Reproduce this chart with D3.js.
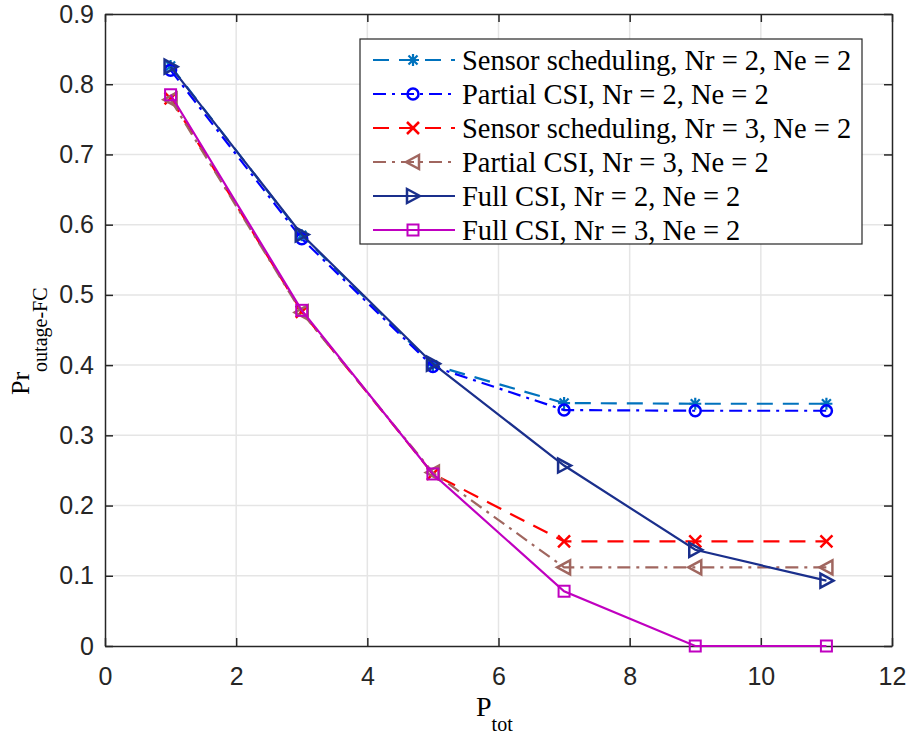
<!DOCTYPE html>
<html>
<head>
<meta charset="utf-8">
<script src="https://d3js.org/d3.v7.min.js"></script>
<style>
  body { margin: 0; background: #fff; }
  .tick text { font-family: "Liberation Sans", Arial, sans-serif; font-size: 25px; fill: #262626; }
  .lbl { font-family: "Liberation Serif", "Times New Roman", serif; fill: #000; }
</style>
</head>
<body>
<svg id="chart" width="908" height="738"></svg>
<script>
// Data

const xValues = [1, 3, 5, 7, 9, 11];

const sensorNr2 = [0.826, 0.585, 0.400, 0.346, 0.345, 0.345];
const partialNr2 = [0.820, 0.580, 0.398, 0.336, 0.335, 0.335];
const sensorNr3 = [0.780, 0.476, 0.245, 0.149, 0.149, 0.149];
const partialNr3 = [0.778, 0.475, 0.247, 0.112, 0.112, 0.112];
const fullNr2 = [0.825, 0.586, 0.402, 0.257, 0.137, 0.093];
const fullNr3 = [0.785, 0.478, 0.245, 0.078, 0.000, 0.000];

const xTicks = [0, 2, 4, 6, 8, 10, 12];
const yTicks = [0, 0.1, 0.2, 0.3, 0.4, 0.5, 0.6, 0.7, 0.8, 0.9];

const dashed = "16,10";
const dashDot = "13,6,3,6";

const series = [
  { name: "Sensor scheduling, Nr = 2, Ne = 2", values: sensorNr2, color: "#0072BD", dash: dashed, marker: "star" },
  { name: "Partial CSI, Nr = 2, Ne = 2", values: partialNr2, color: "#0000FF", dash: dashDot, marker: "circle" },
  { name: "Sensor scheduling, Nr = 3, Ne = 2", values: sensorNr3, color: "#FF0000", dash: dashed, marker: "x" },
  { name: "Partial CSI, Nr = 3, Ne = 2", values: partialNr3, color: "#A0665F", dash: dashDot, marker: "triLeft" },
  { name: "Full CSI, Nr = 2, Ne = 2", values: fullNr2, color: "#1A2F8C", dash: null, marker: "triRight" },
  { name: "Full CSI, Nr = 3, Ne = 2", values: fullNr3, color: "#C000C0", dash: null, marker: "square" }
];

// Frame

const margin = { top: 14, right: 16, bottom: 92, left: 105 };
const width = 908;
const height = 738;

const svg = d3.select("#chart");

const x = d3.scaleLinear().domain([0, 12]).range([margin.left, width - margin.right]);
const y = d3.scaleLinear().domain([0, 0.9]).range([height - margin.bottom, margin.top]);

// Grid

svg.append("g").selectAll("line.gx")
  .data(xTicks.slice(1, -1))
  .enter().append("line")
  .attr("x1", d => x(d)).attr("x2", d => x(d))
  .attr("y1", y(0)).attr("y2", y(0.9))
  .attr("stroke", "#e5e5e5").attr("stroke-width", 1.5);

svg.append("g").selectAll("line.gy")
  .data(yTicks.slice(1, -1))
  .enter().append("line")
  .attr("x1", x(0)).attr("x2", x(12))
  .attr("y1", d => y(d)).attr("y2", d => y(d))
  .attr("stroke", "#e5e5e5").attr("stroke-width", 1.5);

// Axes

const xAxis = svg.append("g")
  .attr("transform", "translate(0," + y(0) + ")")
  .call(d3.axisBottom(x).tickValues(xTicks).tickSizeInner(-8).tickSizeOuter(0).tickPadding(21));

const xAxisTop = svg.append("g")
  .attr("transform", "translate(0," + y(0.9) + ")")
  .call(d3.axisTop(x).tickValues(xTicks).tickSizeInner(-8).tickSizeOuter(0).tickFormat(""));

const yAxis = svg.append("g")
  .attr("transform", "translate(" + x(0) + ",0)")
  .call(d3.axisLeft(y).tickValues(yTicks).tickSizeInner(-8).tickSizeOuter(0).tickPadding(11)
    .tickFormat(d => d === 0 ? "0" : d3.format(".1f")(d)));

const yAxisRight = svg.append("g")
  .attr("transform", "translate(" + x(12) + ",0)")
  .call(d3.axisRight(y).tickValues(yTicks).tickSizeInner(-8).tickSizeOuter(0).tickFormat(""));

[xAxis, xAxisTop, yAxis, yAxisRight].forEach(g => {
  g.select(".domain").attr("stroke", "#262626").attr("stroke-width", 1.5);
  g.selectAll(".tick line").attr("stroke", "#262626").attr("stroke-width", 1.5);
});

// Marker drawing

function drawMarker(g, type, cx, cy, color) {
  const s = 6;
  if (type === "circle") {
    g.append("circle").attr("cx", cx).attr("cy", cy).attr("r", 5.5)
      .attr("fill", "none").attr("stroke", color).attr("stroke-width", 2.5);
  } else if (type === "square") {
    g.append("rect").attr("x", cx - 5.5).attr("y", cy - 5.5).attr("width", 11).attr("height", 11)
      .attr("fill", "none").attr("stroke", color).attr("stroke-width", 2);
  } else if (type === "x") {
    g.append("path")
      .attr("d", `M${cx - s},${cy - s}L${cx + s},${cy + s}M${cx - s},${cy + s}L${cx + s},${cy - s}`)
      .attr("stroke", color).attr("stroke-width", 2.5);
  } else if (type === "star") {
    g.append("path")
      .attr("d", `M${cx - s},${cy}L${cx + s},${cy}M${cx},${cy - s}L${cx},${cy + s}` +
        `M${cx - 4.5},${cy - 4.5}L${cx + 4.5},${cy + 4.5}M${cx - 4.5},${cy + 4.5}L${cx + 4.5},${cy - 4.5}`)
      .attr("stroke", color).attr("stroke-width", 2.2);
  } else if (type === "triLeft") {
    g.append("path")
      .attr("d", `M${cx - 7},${cy}L${cx + 6},${cy - 7}L${cx + 6},${cy + 7}Z`)
      .attr("fill", "none").attr("stroke", color).attr("stroke-width", 2.5);
  } else if (type === "triRight") {
    g.append("path")
      .attr("d", `M${cx + 7},${cy}L${cx - 6},${cy - 7}L${cx - 6},${cy + 7}Z`)
      .attr("fill", "none").attr("stroke", color).attr("stroke-width", 2.5);
  }
}

// Lines

const line = d3.line()
  .x((d, i) => x(xValues[i]))
  .y(d => y(d));

series.forEach(s => {
  const g = svg.append("g");
  g.append("path")
    .datum(s.values)
    .attr("d", line)
    .attr("fill", "none")
    .attr("stroke", s.color)
    .attr("stroke-width", 2.2)
    .attr("stroke-dasharray", s.dash);
  s.values.forEach((v, i) => drawMarker(g, s.marker, x(xValues[i]), y(v), s.color));
});

// Legend

const legend = svg.append("g").attr("transform", "translate(360,39)");

legend.append("rect")
  .attr("width", 502).attr("height", 205)
  .attr("fill", "#fff").attr("stroke", "#262626").attr("stroke-width", 1.2);

series.forEach((s, i) => {
  const ly = 21 + i * 34;
  const row = legend.append("g");
  row.append("line")
    .attr("x1", 13).attr("x2", 95).attr("y1", ly).attr("y2", ly)
    .attr("stroke", s.color).attr("stroke-width", 2.2)
    .attr("stroke-dasharray", s.dash);
  drawMarker(row, s.marker, 53, ly, s.color);
  row.append("text")
    .attr("class", "lbl")
    .attr("x", 102).attr("y", ly + 10)
    .style("font-size", "28.5px")
    .text(s.name);
});

// Axis labels

const xl = svg.append("text").attr("class", "lbl")
  .attr("x", 476).attr("y", 716).style("font-size", "28px");
xl.append("tspan").text("P");
xl.append("tspan").attr("dy", 15).style("font-size", "20px").text("tot");

const yl = svg.append("text").attr("class", "lbl")
  .attr("transform", "translate(29,395) rotate(-90)")
  .style("font-size", "26px");
yl.append("tspan").text("Pr");
yl.append("tspan").attr("dy", 18).style("font-size", "20px").text("outage-FC");
</script>
</body>
</html>
